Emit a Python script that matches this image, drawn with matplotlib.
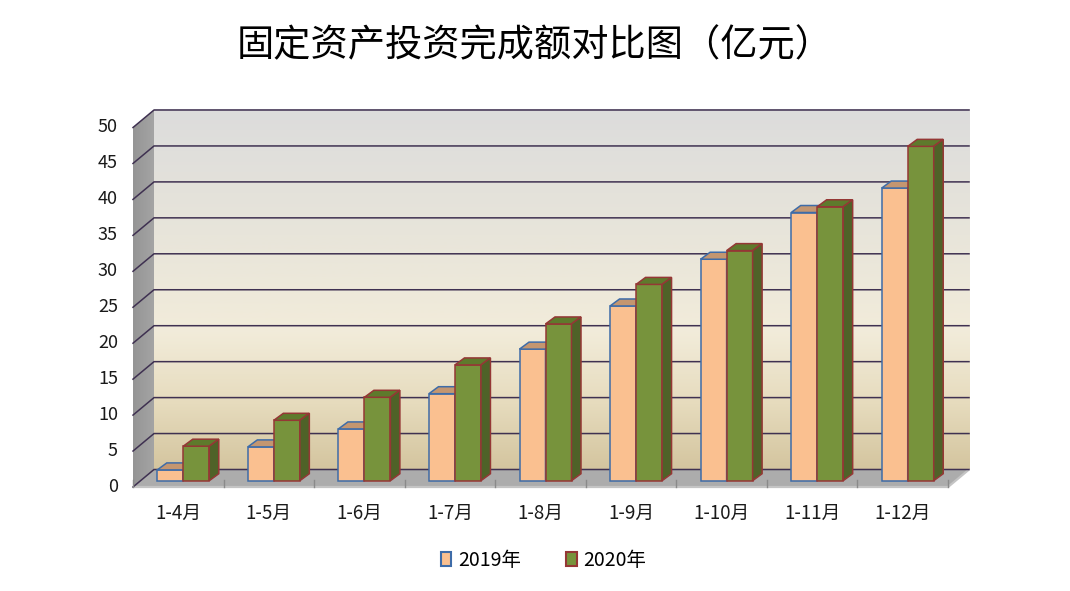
import numpy as np
import matplotlib.pyplot as plt
from matplotlib.patches import Polygon, Patch
from matplotlib.colors import LinearSegmentedColormap

plt.rcParams['font.family'] = ['Noto Sans CJK SC', 'DejaVu Sans']

# data
categories = ['1-4月', '1-5月', '1-6月', '1-7月', '1-8月', '1-9月', '1-10月', '1-11月', '1-12月']
v2019 = [1.5, 4.7, 7.2, 12.1, 18.3, 24.3, 30.8, 37.3, 40.7]
v2020 = [4.8, 8.4, 11.6, 16.1, 21.8, 27.3, 32.0, 38.1, 46.5]
series_names = ['2019年', '2020年']
yticks = [0, 5, 10, 15, 20, 25, 30, 35, 40, 45, 50]
title = '固定资产投资完成额对比图（亿元）'

W, H = 1070, 591
fig = plt.figure(figsize=(W / 100, H / 100), dpi=100)

# pixel geometry of the floor front plane
PX_X = 815 / 9      # px per category
PX_Y = 7.19         # px per value unit
X0_PX = 133         # x=-0.5 at floor front
Y0_PX = 487         # value 0 at floor front

ax_l, ax_r, ax_t, ax_b = 100, 1000, 90, 530
ax = fig.add_axes([ax_l / W, 1 - ax_b / H, (ax_r - ax_l) / W, (ax_b - ax_t) / H])
ax.set_xlim(-0.5 + (ax_l - X0_PX) / PX_X, -0.5 + (ax_r - X0_PX) / PX_X)
ax.set_ylim((Y0_PX - ax_b) / PX_Y, (Y0_PX - ax_t) / PX_Y)
ax.axis('off')

n = len(categories)
xa, xb = -0.5, n - 0.5
ymax = yticks[-1]

# depth offsets (data units)
DX, DY = 21 / PX_X, 17.5 / PX_Y      # floor front -> back wall
FX, FY = 5 / PX_X, 6.3 / PX_Y        # floor front -> bar front
BX, BY = 9.5 / PX_X, 7 / PX_Y        # bar depth
BW = 26 / PX_X                       # bar width

# back wall with vertical gradient
wall_cmap = LinearSegmentedColormap.from_list(
    'wall', [(0.0, '#d4c59f'), (0.18, '#e6dbbd'), (0.38, '#f2ecda'),
             (0.65, '#e8e5da'), (1.0, '#dcdcdc')])
grad = np.linspace(0, 1, 256).reshape(-1, 1)
ax.imshow(grad, cmap=wall_cmap, origin='lower', aspect='auto',
          extent=[xa + DX, xb + DX, DY, ymax + DY], zorder=0)

# left wall (slightly lighter towards the back) and floor
side_cmap = LinearSegmentedColormap.from_list('side', ['#959595', '#a4a4a4'])
side_img = ax.imshow(np.linspace(0, 1, 64).reshape(1, -1), cmap=side_cmap, aspect='auto',
                     extent=[xa, xa + DX, 0, ymax + DY], zorder=1)
side_poly = Polygon([(xa, 0), (xa + DX, DY), (xa + DX, ymax + DY), (xa, ymax)],
                    closed=True, fc='none', ec='none', transform=ax.transData)
ax.add_patch(side_poly)
side_img.set_clip_path(side_poly)
ax.add_patch(Polygon([(xa, 0), (xb, 0), (xb + DX, DY), (xa + DX, DY)],
                     closed=True, fc='#acacac', ec='none', zorder=1))
ax.plot([xa, xb, xb + DX], [0, 0, DY], color='#c4c4c4', lw=1.6, zorder=1.5,
        solid_capstyle='butt')

# gridlines on left wall + back wall
for v in yticks:
    ax.plot([xa, xa + DX, xb + DX], [v, v + DY, v + DY], color='#3f3151', lw=1.1, zorder=2)

# category ticks on the floor edge
for k in range(n + 1):
    ax.plot([xa + k, xa + k], [0, 1.0], color='#8a8a8a', lw=1.0, zorder=2)


def draw_bar(xl, v, front, top, side, edge, z):
    xr = xl + BW
    ax.bar(xl, v, width=BW, bottom=FY, align='edge', color=front, edgecolor=edge,
           linewidth=1.1, zorder=z)
    ax.add_patch(Polygon([(xl, FY + v), (xr, FY + v), (xr + BX, FY + v + BY), (xl + BX, FY + v + BY)],
                         closed=True, fc=top, ec=edge, lw=1.1, zorder=z))
    ax.add_patch(Polygon([(xr, FY), (xr + BX, FY + BY), (xr + BX, FY + v + BY), (xr, FY + v)],
                         closed=True, fc=side, ec=edge, lw=1.1, zorder=z))


for i in range(n):
    c = i + FX
    draw_bar(c - BW, v2019[i], '#fac090', '#c49670', '#d9a070', '#3e6ca8', 3)
    draw_bar(c, v2020[i], '#77933c', '#5e7a2c', '#4f6228', '#953735', 4)

# value labels
for v in yticks:
    ax.text(xa - 15 / PX_X, v, str(v), ha='right', va='center', fontsize=13, color='#1a1a1a')

# category labels
for i, lab in enumerate(categories):
    ax.text(i, -(513 - Y0_PX) / PX_Y, lab, ha='center', va='center', fontsize=13.5, color='#1a1a1a')

fig.text(0.5, 1 - 46 / H, title, ha='center', va='center', fontsize=26.8, color='black')

handles = [Patch(facecolor='#fac090', edgecolor='#3e6ca8', linewidth=1.5),
           Patch(facecolor='#77933c', edgecolor='#953735', linewidth=1.5)]
fig.legend(handles, series_names, loc='center', bbox_to_anchor=(0.508, 1 - 560 / H),
           ncol=2, frameon=False, handlelength=0.55, handleheight=0.7, handletextpad=0.35,
           columnspacing=2.3, fontsize=14)

fig.savefig('out.png', dpi=100)
